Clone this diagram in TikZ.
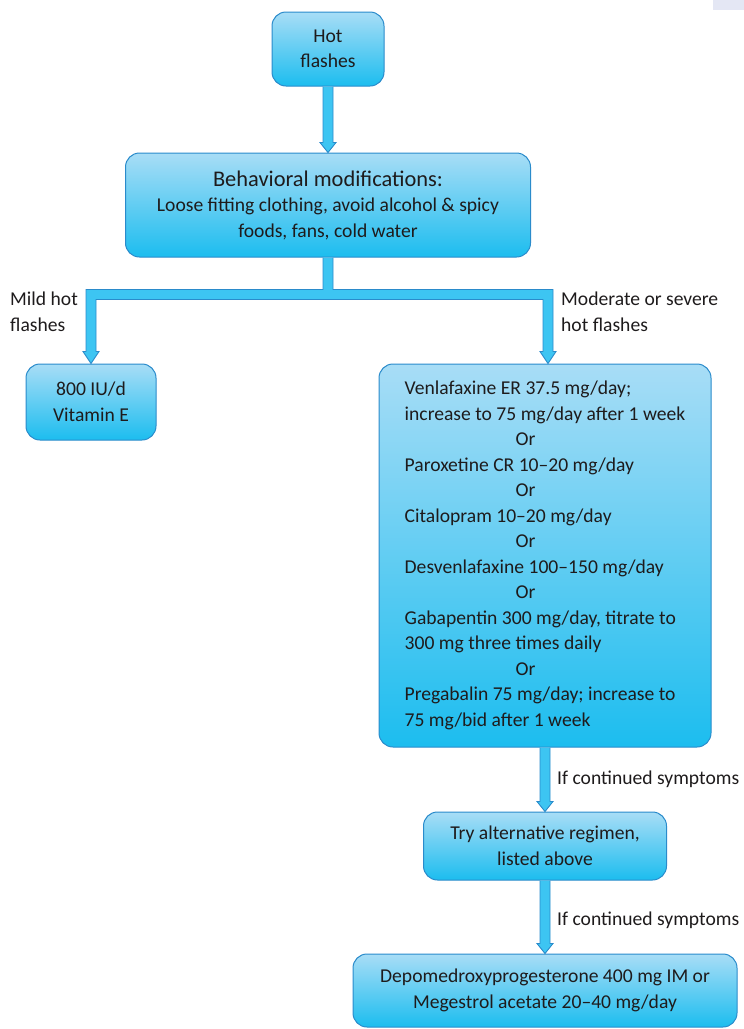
\documentclass[tikz,border=0pt]{standalone}
\usepackage{fontspec}
\setmainfont{Carlito}
\usetikzlibrary{calc}
\definecolor{boxtop}{HTML}{A8DDF6}
\definecolor{boxbot}{HTML}{1CBDEF}
\definecolor{boxline}{HTML}{2A8BCB}
\definecolor{arrfill}{HTML}{3DC5F2}
\definecolor{txt}{HTML}{1E1B1C}
\definecolor{cornergray}{HTML}{E4E7F4}
\newcommand\vconn[2]{%
  \path[fill=arrfill] let \p1=(#1.south), \p2=(#2.north) in
    (\x1-5pt,\y1) -- (\x1-5pt,\y2+10pt) -- (\x1-8pt,\y2+10pt) -- (\x1,\y2) -- (\x1+8pt,\y2+10pt) -- (\x1+5pt,\y2+10pt) -- (\x1+5pt,\y1) -- cycle;
  \draw[arrline] let \p1=(#1.south), \p2=(#2.north) in
    (\x1-5pt,\y1) -- (\x1-5pt,\y2+10pt) -- (\x1-8pt,\y2+10pt) -- (\x1,\y2) -- (\x1+8pt,\y2+10pt) -- (\x1+5pt,\y2+10pt) -- (\x1+5pt,\y1);}
\begin{document}
\begin{tikzpicture}[x=1pt,y=-1pt,
  box/.style={draw=boxline, line width=1pt, rounded corners=14pt, top color=boxtop, bottom color=boxbot,
    text=txt, align=center, inner sep=0pt, font=\fontsize{19.6}{25.5}\selectfont},
  lbl/.style={text=txt, align=left, anchor=west, inner sep=0pt, font=\fontsize{19.6}{25.5}\selectfont},
  arrline/.style={draw=boxline, line width=0.9pt, line join=miter}]
\useasboundingbox (0,0) rectangle (744,1029);
\fill[cornergray] (713,0) rectangle (744,10);

\node[box, minimum width=112pt, minimum height=74pt] (hot) at (328,49) {Hot\\flashes};
\node[box, minimum width=405pt, minimum height=104pt] (beh) at (328,205)
  {{\fontsize{22.4}{28}\selectfont Behavioral modifications:}\\Loose fitting clothing, avoid alcohol \& spicy\\foods, fans, cold water};
\node[box, minimum width=130pt, minimum height=76pt] (vit) at (91,402) {800 IU/d\\Vitamin E};
\node[box, minimum width=332pt, minimum height=383pt, align=left] (big) at (545,555.5)
  {Venlafaxine ER 37.5 mg/day;\\increase to 75 mg/day after 1 week\\\hspace*{111pt}Or\\Paroxetine CR 10--20 mg/day\\\hspace*{111pt}Or\\Citalopram 10--20 mg/day\\\hspace*{111pt}Or\\Desvenlafaxine 100--150 mg/day\\\hspace*{111pt}Or\\Gabapentin 300 mg/day, titrate to\\300 mg three times daily\\\hspace*{111pt}Or\\Pregabalin 75 mg/day; increase to\\75 mg/bid after 1 week};
\node[box, minimum width=243pt, minimum height=68pt] (try) at (545,846) {Try alternative regimen,\\listed above};
\node[box, minimum width=384pt, minimum height=73pt] (depo) at (545,990.5)
  {Depomedroxyprogesterone 400 mg IM or\\Megestrol acetate 20--40 mg/day};

\vconn{hot}{beh}
\vconn{big}{try}
\vconn{try}{depo}

% branching connector
\path[fill=arrfill] let \p1=(beh.south), \p2=(vit.north), \p3=($(big.north)+(3,0)$), \p4=($(beh.south)+(0,37)$) in
  (\x1-5pt,\y1) -- (\x1-5pt,\y4+5pt) -- (\x2-5pt,\y4+5pt) -- (\x2-5pt,\y2+12pt) -- (\x2-8pt,\y2+12pt) -- (\x2,\y2)
  -- (\x2+8pt,\y2+12pt) -- (\x2+5pt,\y2+12pt) -- (\x2+5pt,\y4-5pt) -- (\x3-5pt,\y4-5pt) -- (\x3-5pt,\y3+12pt)
  -- (\x3-8pt,\y3+12pt) -- (\x3,\y3) -- (\x3+8pt,\y3+12pt) -- (\x3+5pt,\y3+12pt) -- (\x3+5pt,\y4+5pt)
  -- (\x1+5pt,\y4+5pt) -- (\x1+5pt,\y1) -- cycle;
\draw[arrline] let \p1=(beh.south), \p2=(vit.north), \p3=($(big.north)+(3,0)$), \p4=($(beh.south)+(0,37)$) in
  (\x1-5pt,\y1) -- (\x1-5pt,\y4+5pt) -- (\x2-5pt,\y4+5pt) -- (\x2-5pt,\y2+12pt) -- (\x2-8pt,\y2+12pt) -- (\x2,\y2)
  -- (\x2+8pt,\y2+12pt) -- (\x2+5pt,\y2+12pt) -- (\x2+5pt,\y4-5pt) -- (\x3-5pt,\y4-5pt) -- (\x3-5pt,\y3+12pt)
  -- (\x3-8pt,\y3+12pt) -- (\x3,\y3) -- (\x3+8pt,\y3+12pt) -- (\x3+5pt,\y3+12pt) -- (\x3+5pt,\y4+5pt)
  -- (\x1+5pt,\y4+5pt) -- (\x1+5pt,\y1);

\node[lbl] (lmild) at (10,312) {Mild hot\\flashes};
\node[lbl] (lmod) at (561,312) {Moderate or severe\\hot flashes};
\node[lbl] (lif1) at (557,779) {If continued symptoms};
\node[lbl] (lif2) at (557,920) {If continued symptoms};
\end{tikzpicture}
\end{document}
